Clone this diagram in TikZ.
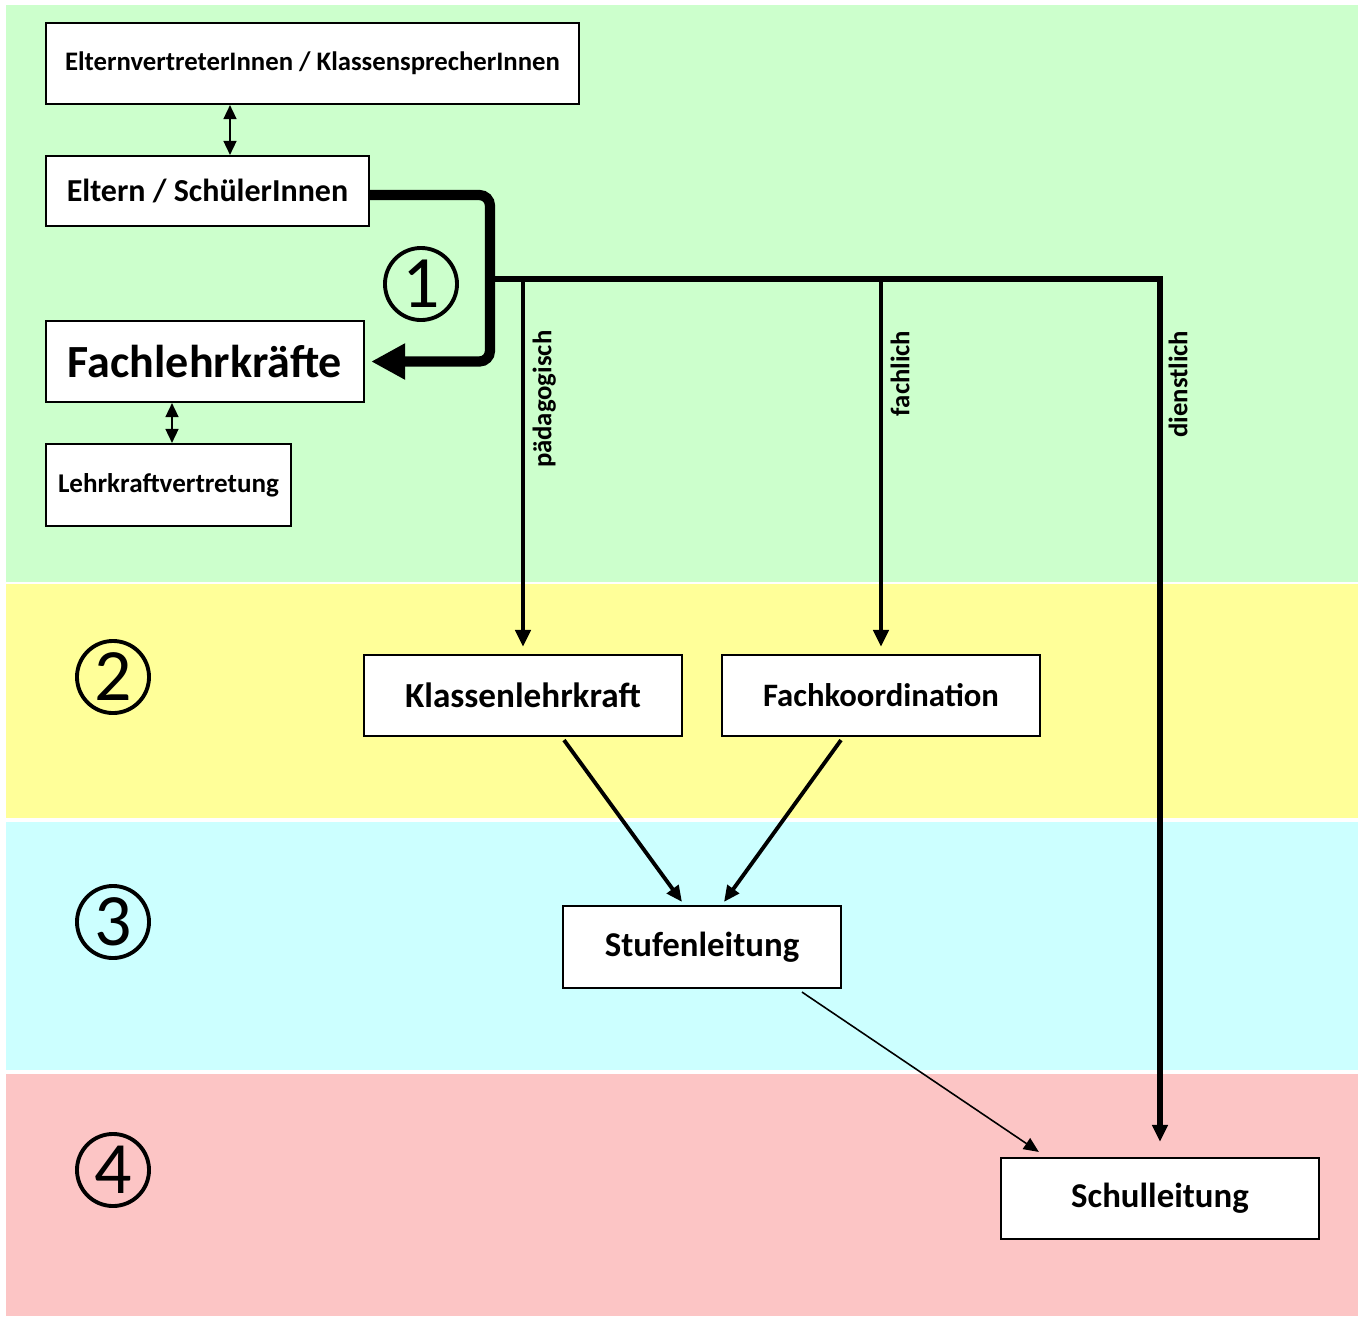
\documentclass[tikz,border=0pt]{standalone}
\usepackage{fontspec}
\setmainfont{Carlito}
\usetikzlibrary{arrows.meta}

\definecolor{bandgreen}{HTML}{CCFFCC}
\definecolor{bandyellow}{HTML}{FFFF99}
\definecolor{bandcyan}{HTML}{CCFFFF}
\definecolor{bandpink}{HTML}{FCC5C5}

\begin{document}
\begin{tikzpicture}[x=0.01cm,y=-0.01cm,
        box/.style={draw, fill=white, line width=0.6pt, inner sep=0pt},
        num/.style={circle, draw, line width=1.1pt, minimum size=0.72cm, inner sep=0pt, font=\fontsize{21}{21}\selectfont},
        lbl/.style={font=\bfseries\fontsize{7.6}{9}\selectfont, rotate=90, anchor=north east, inner sep=0pt},
        dbl/.style={{Triangle[length=0.14cm,width=0.13cm]}-{Triangle[length=0.14cm,width=0.13cm]}, line width=0.45pt},
        down/.style={-{Triangle[length=0.17cm,width=0.15cm]}, line width=1.4pt},
        diag/.style={-{Triangle[length=0.16cm,width=0.14cm]}, line width=1.1pt}]

    \useasboundingbox (0,0) rectangle (1362,1317);

    % Ebenen
    \fill[bandgreen] (6,5) rectangle (1358,582);
    \fill[bandyellow] (6,584) rectangle (1358,818);
    \fill[bandcyan] (6,822) rectangle (1358,1070);
    \fill[bandpink] (6,1074) rectangle (1358,1316);

    \node[num] (n1) at (421,284) {1};
    \node[num] (n2) at (113,677) {2};
    \node[num] (n3) at (113,922) {3};
    \node[num] (n4) at (113,1170) {4};

    % Kaesten
    \node[box, minimum width=5.33cm, minimum height=0.81cm, font=\bfseries\fontsize{7.6}{9}\selectfont] (evk) at (312.5,63.5) {ElternvertreterInnen / KlassensprecherInnen};
    \node[box, minimum width=3.23cm, minimum height=0.70cm, font=\bfseries\fontsize{9.1}{11}\selectfont] (es) at (207.5,191) {Eltern / SchülerInnen};
    \node[box, minimum width=3.18cm, minimum height=0.81cm, font=\bfseries\fontsize{13.1}{15}\selectfont] (flk) at (205,361.5) {Fachlehrkräfte};
    \node[box, minimum width=2.45cm, minimum height=0.82cm, font=\bfseries\fontsize{7.7}{9}\selectfont] (lkv) at (168.5,485) {Lehrkraftvertretung};
    \node[box, minimum width=3.18cm, minimum height=0.81cm, font=\bfseries\fontsize{10}{12}\selectfont] (klk) at (523,695.5) {Klassenlehrkraft};
    \node[box, minimum width=3.18cm, minimum height=0.81cm, font=\bfseries\fontsize{9.3}{11}\selectfont] (fk) at (881,695.5) {Fachkoordination};
    \node[box, minimum width=2.78cm, minimum height=0.82cm, font=\bfseries\fontsize{9.9}{12}\selectfont] (st) at (702,947) {Stufenleitung};
    \node[box, minimum width=3.18cm, minimum height=0.81cm, font=\bfseries\fontsize{9.9}{12}\selectfont] (sl) at (1160,1198.5) {Schulleitung};

    \coordinate (c1) at (230,0);
    \coordinate (c2) at (172,0);
    \coordinate (hub) at (490,279);

    \draw[dbl] (evk.south -| c1) -- (es.north -| c1);
    \draw[dbl] (flk.south -| c2) -- (lkv.north -| c2);

    % Beschwerdeweg
    \draw[line width=2.9pt, rounded corners=3pt, -{Triangle[length=0.34cm,width=0.34cm]}, shorten >=0.06cm] ([yshift=-0.04cm]es.east) -| (hub) |- (flk.east);
    \draw[line width=1.5pt, -{Triangle[length=0.17cm,width=0.15cm]}, shorten >=0.15cm] (hub) -| (sl.north);
    \draw[down, shorten >=0.07cm] (klk.north |- hub) -- (klk.north);
    \draw[down, shorten >=0.07cm] (fk.north |- hub) -- (fk.north);

    \node[lbl] (lp) at (532,330) {pädagogisch};
    \node[lbl] (lf) at (890,330) {fachlich};
    \node[lbl] (ld) at (1168,330) {dienstlich};

    \draw[diag] ([shift={(41,3)}]klk.south) -- ([shift={(-20,-3)}]st.north);
    \draw[diag] ([shift={(-40,3)}]fk.south) -- ([shift={(22,-3)}]st.north);
    \draw[-{Triangle[length=0.15cm,width=0.13cm]}, line width=0.45pt] ([shift={(100,3)}]st.south) -- ([shift={(39,-5)}]sl.north west);
\end{tikzpicture}
\end{document}
